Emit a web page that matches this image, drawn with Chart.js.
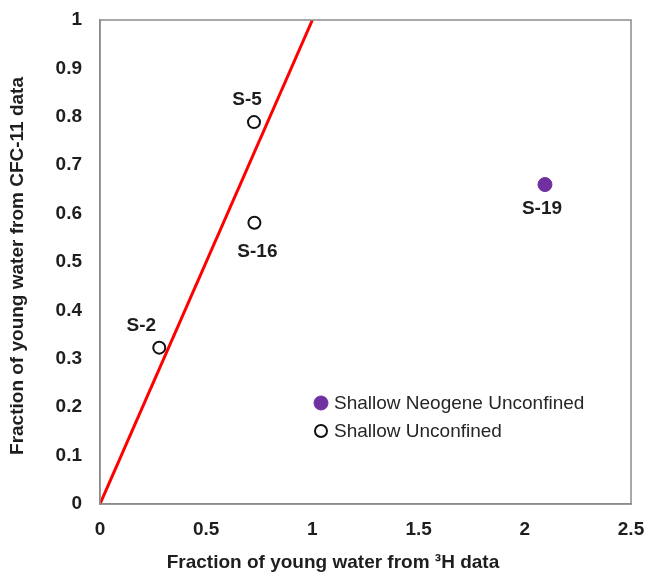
<!DOCTYPE html>
<html>
<head>
<meta charset="utf-8">
<script src="https://cdn.jsdelivr.net/npm/chart.js@4/dist/chart.umd.min.js"></script>
<style>
  html, body { margin: 0; padding: 0; background: #fff; }
  #wrap { width: 648px; height: 576px; }
</style>
</head>
<body>
<div id="wrap"><canvas id="c" width="648" height="576"></canvas></div>
<script>
// Data
const unconfinedNames = ["S-2", "S-5", "S-16"];
const unconfinedX = [0.279, 0.725, 0.727];
const unconfinedY = [0.323, 0.789, 0.581];
const neogeneNames = ["S-19"];
const neogeneX = [2.095];
const neogeneY = [0.660];
const oneToOneX = [0, 1];
const oneToOneY = [0, 1];
const xTicks = [0, 0.5, 1, 1.5, 2, 2.5];
const yTicks = [0, 0.1, 0.2, 0.3, 0.4, 0.5, 0.6, 0.7, 0.8, 0.9, 1];
const xTitle = "Fraction of young water from ³H data";
const yTitle = "Fraction of young water from CFC-11 data";

// label offsets (pixels) relative to point
const labelOffsets = { "S-2": [-18, -22], "S-5": [-7, -22], "S-16": [3, 29], "S-19": [-3, 24] };

const FONT = "'Liberation Sans', Arial, sans-serif";
const PURPLE = "#7030A0";
const TEXT = "#1e1e1e";

const toPts = (xs, ys) => xs.map((x, i) => ({ x: x, y: ys[i] }));
const fmt = v => String(Math.round(v * 10) / 10);

const pointLabels = {
  id: 'pointLabels',
  afterDatasetsDraw(chart) {
    const ctx = chart.ctx;
    ctx.save();
    ctx.font = "bold 19px " + FONT;
    ctx.fillStyle = TEXT;
    ctx.textAlign = "center";
    ctx.textBaseline = "middle";
    chart.data.datasets.forEach((ds, di) => {
      if (!ds.names) return;
      const meta = chart.getDatasetMeta(di);
      meta.data.forEach((el, i) => {
        const name = ds.names[i];
        const off = labelOffsets[name] || [0, -20];
        ctx.fillText(name, el.x + off[0], el.y + off[1]);
      });
    });
    ctx.restore();
  }
};

const frameAndLegend = {
  id: 'frameAndLegend',
  afterDraw(chart) {
    const ctx = chart.ctx;
    const a = chart.chartArea;
    ctx.save();
    ctx.strokeStyle = "#8c8c8c";
    ctx.lineWidth = 1.5;
    ctx.strokeRect(a.left, a.top, a.right - a.left, a.bottom - a.top);
    // axis titles
    ctx.font = "bold 19px " + FONT;
    ctx.fillStyle = TEXT;
    ctx.textAlign = "center";
    ctx.textBaseline = "middle";
    ctx.fillText(xTitle, 333, 563);
    ctx.save();
    ctx.translate(18, 266);
    ctx.rotate(-Math.PI / 2);
    ctx.fillText(yTitle, 0, 0);
    ctx.restore();
    // legend inside plot
    const items = chart.data.datasets.filter(d => d.inLegend).sort((p, q) => p.legendOrder - q.legendOrder);
    let y = 403;
    const mx = 321;
    ctx.font = "19px " + FONT;
    ctx.textBaseline = "middle";
    ctx.textAlign = "left";
    items.forEach(d => {
      ctx.beginPath();
      ctx.arc(mx, y, d.pointRadius, 0, Math.PI * 2);
      if (d.backgroundColor !== "rgba(0,0,0,0)") {
        ctx.fillStyle = d.backgroundColor;
        ctx.fill();
      } else {
        ctx.fillStyle = "#fff";
        ctx.fill();
      }
      ctx.lineWidth = d.borderWidth;
      ctx.strokeStyle = d.borderColor;
      ctx.stroke();
      ctx.fillStyle = "#262626";
      ctx.fillText(d.label, 334, y + 1);
      y += 28;
    });
    ctx.restore();
  }
};

new Chart(document.getElementById('c'), {
  type: 'scatter',
  data: {
    datasets: [
      {
        label: "1:1 line",
        type: 'line',
        data: toPts(oneToOneX, oneToOneY),
        borderColor: "#ff0000",
        borderWidth: 3,
        pointRadius: 0,
        fill: false,
        order: 3
      },
      {
        label: "Shallow Neogene Unconfined",
        names: neogeneNames,
        inLegend: true,
        legendOrder: 1,
        data: toPts(neogeneX, neogeneY),
        backgroundColor: PURPLE,
        borderColor: PURPLE,
        borderWidth: 1,
        pointRadius: 7,
        order: 1
      },
      {
        label: "Shallow Unconfined",
        names: unconfinedNames,
        inLegend: true,
        legendOrder: 2,
        data: toPts(unconfinedX, unconfinedY),
        backgroundColor: "rgba(0,0,0,0)",
        borderColor: "#111",
        borderWidth: 2,
        pointRadius: 6,
        order: 1
      }
    ]
  },
  options: {
    responsive: false,
    animation: false,
    layout: { padding: { top: 20, right: 17, bottom: 0, left: 0 } },
    plugins: {
      legend: { display: false },
      tooltip: { enabled: false }
    },
    scales: {
      x: {
        type: 'linear',
        min: 0, max: 2.5,
        afterBuildTicks: s => { s.ticks = xTicks.map(v => ({ value: v })); },
        afterFit: s => { s.height = 72; s.paddingLeft = 0; s.paddingRight = 0; },
        grid: { display: false, drawTicks: false },
        border: { display: true, color: "#8c8c8c", width: 1.5 },
        ticks: { padding: 14, color: TEXT, font: { family: FONT, size: 19, weight: 'bold' }, maxRotation: 0,
                 callback: v => fmt(v) },
        title: { display: false }
      },
      y: {
        type: 'linear',
        min: 0, max: 1,
        afterBuildTicks: s => { s.ticks = yTicks.map(v => ({ value: v })); },
        afterFit: s => { s.width = 100; s.paddingTop = 0; s.paddingBottom = 0; },
        grid: { display: false, drawTicks: false },
        border: { display: true, color: "#8c8c8c", width: 1.5 },
        ticks: { padding: 18, color: TEXT, font: { family: FONT, size: 19, weight: 'bold' },
                 callback: v => fmt(v) },
        title: { display: false }
      }
    }
  },
  plugins: [pointLabels, frameAndLegend]
});
</script>
</body>
</html>
